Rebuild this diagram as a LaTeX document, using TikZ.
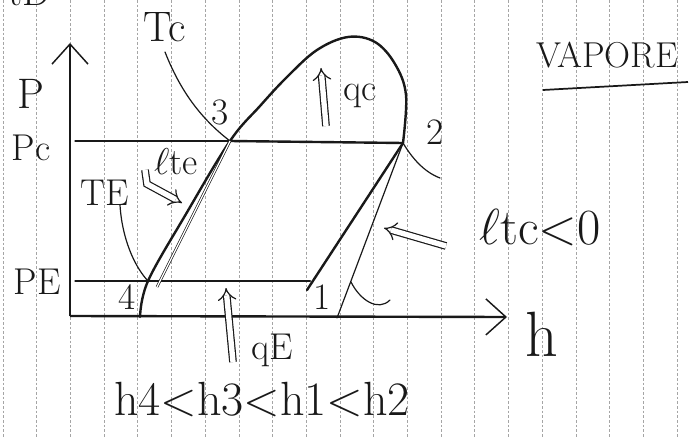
\RequirePackage{fix-cm}
\documentclass[tikz,border=0pt]{standalone}
\usepackage{tikz}
\usetikzlibrary{arrows.meta}

\begin{document}
\begin{tikzpicture}[x=0.75pt, y=-0.75pt,
  lbl/.style={font=\fontsize{28}{30}\selectfont, text=ink, inner sep=0pt},
  thickline/.style={ink, line width=1.8pt, line cap=round, line join=round},
  thinline/.style={ink, line width=0.9pt, line cap=round},
  axisline/.style={ink, line width=1.8pt, -{Straight Barb[length=15pt, width=27pt, line width=1.1pt]}},
  heatarrow/.style={ink, double, double distance=4pt, line width=0.9pt, -{Implies}}]
\definecolor{ink}{RGB}{25,25,25}
\definecolor{paper}{RGB}{165,165,165}

\fill[white] (0,0) rectangle (695,438);
\useasboundingbox (0,0) rectangle (695,438);
\clip (0,0) rectangle (695,438);

% ---- GRID OF THE SHEET ----
\foreach \k in {0,...,20}
  \draw[paper, line width=0.5pt, dash pattern=on 2pt off 1.5pt] (3+33.7*\k,0) -- (3+33.7*\k,438);

% cut off writing at the top
\node[lbl, font=\fontsize{30}{30}\selectfont] (cut) at (30,-8) {tD};

% ---- AXES ----
\coordinate (o) at (70,316);
\draw[axisline] (o) -- (70,43);
\draw[axisline] (o) -- (507,317);
\node[lbl, font=\fontsize{48}{48}\selectfont] (lblh) at (542,334) {h};
\node[lbl, font=\fontsize{32}{32}\selectfont] (lblP) at (31,94) {P};

% ---- STATES ----
\coordinate (p1) at (310,281);
\coordinate (p2) at (403,143);
\coordinate (p3) at (230,141);
\coordinate (p4) at (148,281);

% Saturation dome
\draw[thickline] plot[smooth, tension=0.6] coordinates {(140,317) (p4) (186,214) (p3) (260,106) (287,77) (317,50) (348,37) (375,42) (395,64) (406,95) (p2)};
\draw[thickline] (p2) -- (307,290);

% Pressure levels
\draw[thinline] (75,141) -- (p3);
\draw[thickline] (p3) -- (p2);
\node[lbl] (lblPc) at (31,148) {Pc};
\draw[thinline] (75,281) -- (157,281);
\draw[thickline] (157,281) -- (p1);
\node[lbl] (lblPE) at (37,282) {PE};

% Isotherms
\draw[thinline] (165,52) .. controls (180,90) and (200,118) .. (p3);
\draw[thinline] (p2) .. controls (412,158) and (424,172) .. (440,178);
\node[lbl, font=\fontsize{32}{32}\selectfont] (lblTc) at (165,27) {Tc};
\draw[thinline] (120,205) .. controls (122,238) and (134,266) .. (p4);
\draw[thinline] (351,282) .. controls (360,300) and (378,312) .. (390,300);
\node[lbl] (lblTE) at (105,193) {TE};

% Expansion and compression
\draw[ink, double, double distance=1pt, line width=0.5pt] (p3) -- (157,287);
\draw[thinline] (p2) -- (337,318);

\node[lbl] (lbl3) at (220,112) {3};
\node[lbl] (lbl2) at (435,132) {2};
\node[lbl] (lbl4) at (127,297) {4};
\node[lbl] (lbl1) at (322,297) {1};

% ---- HEAT AND WORK ----
\draw[heatarrow] (326,126) -- (321,68);
\node[lbl] (lblqc) at (360,96) {qc};
\draw[heatarrow] (233,362) -- (226,288);
\node[lbl] (lblqE) at (272,350) {qE};
\draw[heatarrow] (145,170) -- (147,184) -- (182,203);
\node[lbl] (lblte) at (176,162) {$\ell$te};
\draw[heatarrow] (446,246) -- (384,228);
\node[lbl, font=\fontsize{38}{38}\selectfont] (lbltc) at (540,228) {$\ell$tc<0};

% ---- NOTES ----
\node[lbl, font=\fontsize{27}{27}\selectfont] (vap) at (607,55) {VAPORE};
\draw[ink, line width=1.3pt] (543,90) -- (688,82);
\node[lbl, font=\fontsize{36}{36}\selectfont] (order) at (262,400) {h4<h3<h1<h2};

\end{tikzpicture}
\end{document}
